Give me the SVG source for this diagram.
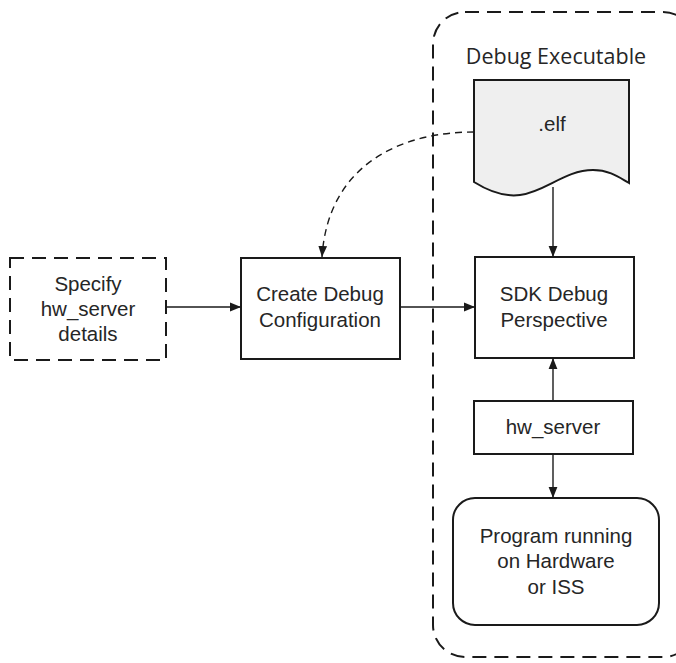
<svg xmlns="http://www.w3.org/2000/svg" width="676" height="663" viewBox="0 0 676 663">
<style>
.box{fill:#fff;stroke:#1a1a1a;stroke-width:2}
.dash{fill:none;stroke:#1a1a1a;stroke-width:2;stroke-dasharray:14 8}
.t{font-family:"Liberation Sans",Arial,sans-serif;font-size:20.5px;fill:#262626;text-anchor:middle}
.c{fill:none;stroke:#1a1a1a;stroke-width:1.4}
</style>
<defs>
<marker id="ah" viewBox="0 0 10 10" refX="10" refY="5" markerWidth="11" markerHeight="11" markerUnits="userSpaceOnUse" orient="auto">
<path d="M0,1 L10,5 L0,9 Z" fill="#1a1a1a"/>
</marker>
</defs>
<rect width="676" height="663" fill="#fff"/>
<g id="debug-executable">
<rect class="dash" x="433" y="12" width="262" height="645" rx="32"/>
<text x="556" y="64" style="font-family:'Open Sans',Carlito,sans-serif;font-size:21.5px;fill:#262626;text-anchor:middle">Debug Executable</text>
</g>
<g id="elf">
<path d="M474,80 L629,80 L629,183 C620,178 610,170 593,170 C565,170 545,192 520,195 C505,197 490,192 474,182 Z" fill="#efefef" stroke="#1a1a1a" stroke-width="2"/>
<text class="t" x="552" y="131">.elf</text>
</g>
<g id="specify">
<rect class="dash" x="10" y="258" width="156" height="102"/>
<text class="t" x="88" y="291">Specify</text>
<text class="t" x="88" y="316">hw_server</text>
<text class="t" x="88" y="341">details</text>
</g>
<g id="create">
<rect class="box" x="241" y="258" width="159" height="101"/>
<text class="t" x="320" y="301">Create Debug</text>
<text class="t" x="320" y="327">Configuration</text>
</g>
<g id="sdk">
<rect class="box" x="475" y="257" width="159" height="101"/>
<text class="t" x="554" y="301">SDK Debug</text>
<text class="t" x="554" y="327">Perspective</text>
</g>
<g id="hwserver">
<rect class="box" x="474" y="401" width="159" height="53"/>
<text class="t" x="553" y="434">hw_server</text>
</g>
<g id="program">
<rect class="box" x="453" y="498" width="206" height="127" rx="22"/>
<text class="t" x="556" y="543">Program running</text>
<text class="t" x="556" y="568">on Hardware</text>
<text class="t" x="556" y="594">or ISS</text>
</g>
<g id="connectors">
<path class="c" d="M553,187 L553,257" marker-end="url(#ah)"/>
<path class="c" d="M166,307 L241,307" marker-end="url(#ah)"/>
<path class="c" d="M400,307 L475,307" marker-end="url(#ah)"/>
<path class="c" d="M553,401 L553,358" marker-end="url(#ah)"/>
<path class="c" d="M553,454 L553,498" marker-end="url(#ah)"/>
<path class="c" d="M474,132 C400,132 328,165 322,257" stroke-dasharray="7 5" marker-end="url(#ah)"/>
</g>
</svg>
